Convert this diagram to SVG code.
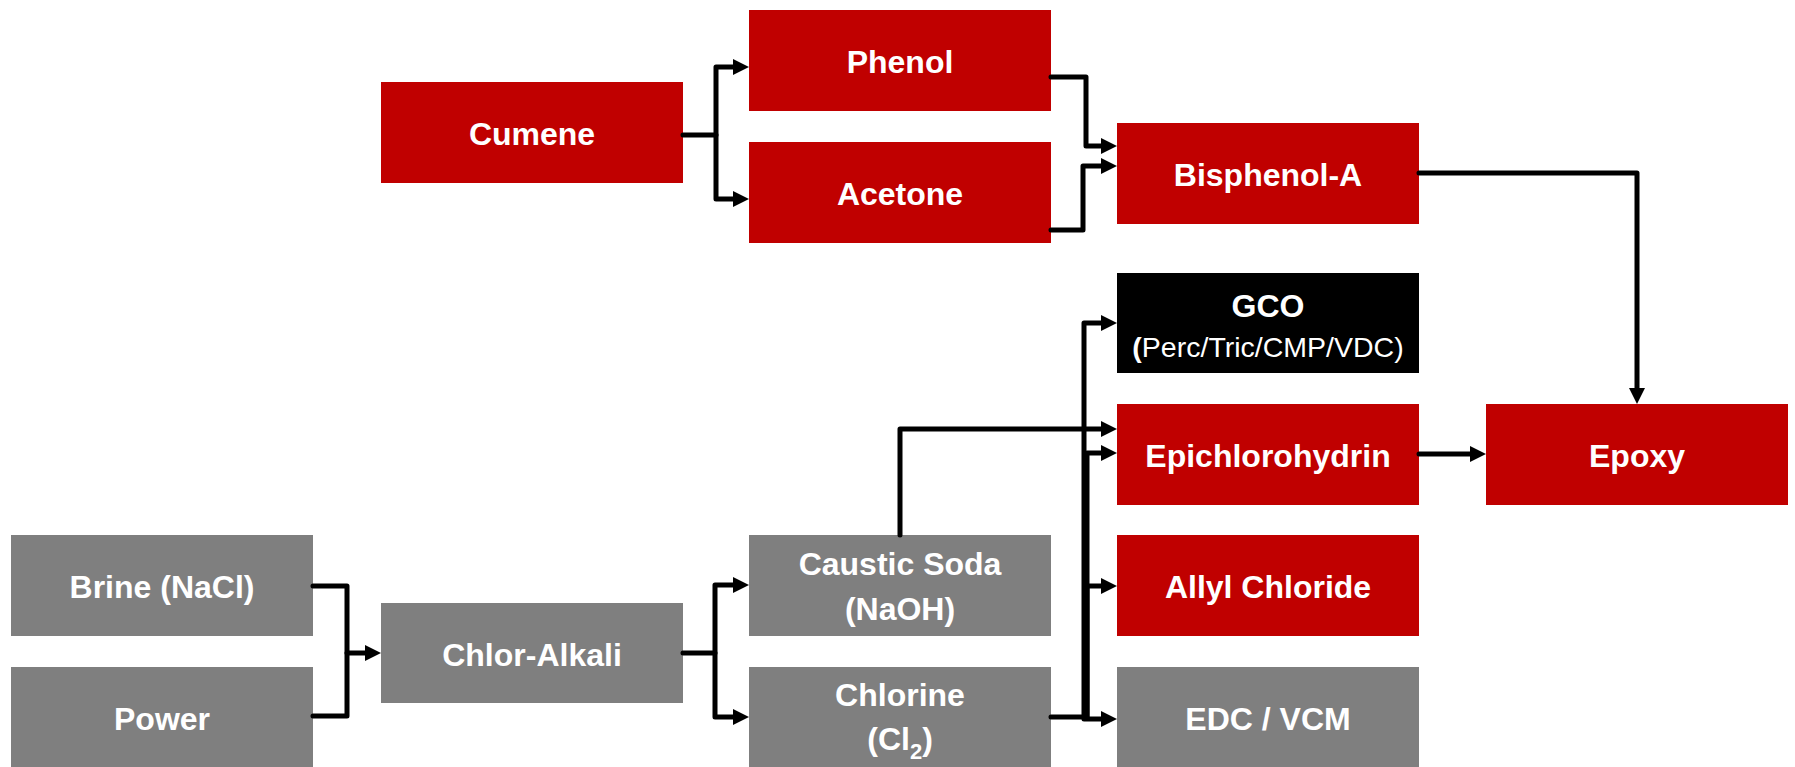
<svg xmlns="http://www.w3.org/2000/svg" width="1795" height="767" viewBox="0 0 1795 767">
<defs>
<style>
.red{fill:#C00000}
.gray{fill:#7F7F7F}
.blk{fill:#000000}
.t{font-family:"Liberation Sans",Arial,sans-serif;font-weight:bold;font-size:32px;fill:#FFFFFF;text-anchor:middle}
.s{font-family:"Liberation Sans",Arial,sans-serif;font-weight:normal;font-size:28.5px;fill:#FFFFFF;text-anchor:middle}
.c{fill:none;stroke:#000000;stroke-width:5;stroke-linecap:round;stroke-linejoin:round}
</style>
<marker id="ah" markerUnits="userSpaceOnUse" markerWidth="16" markerHeight="16" refX="0" refY="8" orient="auto" viewBox="0 0 16 16">
<path d="M0,0 L16,8 L0,16 Z" fill="#000000"/>
</marker>
</defs>
<rect width="1795" height="767" fill="#FFFFFF"/>

<g id="cumene"><rect class="red" x="381" y="82" width="302" height="101"/><text class="t" x="532" y="145">Cumene</text></g>
<g id="phenol"><rect class="red" x="749" y="10" width="302" height="101"/><text class="t" x="900" y="73">Phenol</text></g>
<g id="acetone"><rect class="red" x="749" y="142" width="302" height="101"/><text class="t" x="900" y="205">Acetone</text></g>
<g id="bisphenol-a"><rect class="red" x="1117" y="123" width="302" height="101"/><text class="t" x="1268" y="186">Bisphenol-A</text></g>
<g id="gco"><rect class="blk" x="1117" y="273" width="302" height="100"/><text class="t" x="1268" y="317">GCO</text><text class="s" x="1268" y="357"><tspan font-weight="bold">(</tspan>Perc/Tric/CMP/VDC)</text></g>
<g id="epichlorohydrin"><rect class="red" x="1117" y="404" width="302" height="101"/><text class="t" x="1268" y="467">Epichlorohydrin</text></g>
<g id="allyl-chloride"><rect class="red" x="1117" y="535" width="302" height="101"/><text class="t" x="1268" y="598">Allyl Chloride</text></g>
<g id="edc-vcm"><rect class="gray" x="1117" y="667" width="302" height="101"/><text class="t" x="1268" y="730">EDC / VCM</text></g>
<g id="epoxy"><rect class="red" x="1486" y="404" width="302" height="101"/><text class="t" x="1637" y="467">Epoxy</text></g>
<g id="brine"><rect class="gray" x="11" y="535" width="302" height="101"/><text class="t" x="162" y="598">Brine (NaCl)</text></g>
<g id="power"><rect class="gray" x="11" y="667" width="302" height="101"/><text class="t" x="162" y="730">Power</text></g>
<g id="chlor-alkali"><rect class="gray" x="381" y="603" width="302" height="100"/><text class="t" x="532" y="666">Chlor-Alkali</text></g>
<g id="caustic-soda"><rect class="gray" x="749" y="535" width="302" height="101"/><text class="t" x="900" y="575">Caustic Soda</text><text class="t" x="900" y="620">(NaOH)</text></g>
<g id="chlorine"><rect class="gray" x="749" y="667" width="302" height="101"/><text class="t" x="900" y="706">Chlorine</text><text class="t" x="900" y="750">(Cl<tspan font-size="22px" dy="9">2</tspan><tspan dy="-9">)</tspan></text></g>

<g id="connectors">
<path class="c" d="M683,135 H716 V67 H733" marker-end="url(#ah)"/>
<path class="c" d="M716,135 V199 H733" marker-end="url(#ah)"/>
<path class="c" d="M1051,77 H1086 V146 H1101" marker-end="url(#ah)"/>
<path class="c" d="M1051,230 H1083 V166 H1101" marker-end="url(#ah)"/>
<path class="c" d="M1419,173 H1637 V388" marker-end="url(#ah)"/>
<path class="c" d="M1419,454 H1470" marker-end="url(#ah)"/>
<path class="c" d="M900,535 V429 H1101" marker-end="url(#ah)"/>
<path class="c" d="M1051,717 H1084 V323 H1101" marker-end="url(#ah)"/>
<path class="c" d="M1087,717 V453 H1101" marker-end="url(#ah)"/>
<path class="c" d="M1087,717 V586 H1101" marker-end="url(#ah)"/>
<path class="c" d="M1084,717 V719 H1101" marker-end="url(#ah)"/>
<path class="c" d="M313,586 H347 V716 H313"/>
<path class="c" d="M347,653 H365" marker-end="url(#ah)"/>
<path class="c" d="M683,653 H715 V585 H733" marker-end="url(#ah)"/>
<path class="c" d="M715,653 V717 H733" marker-end="url(#ah)"/>
</g>
</svg>
